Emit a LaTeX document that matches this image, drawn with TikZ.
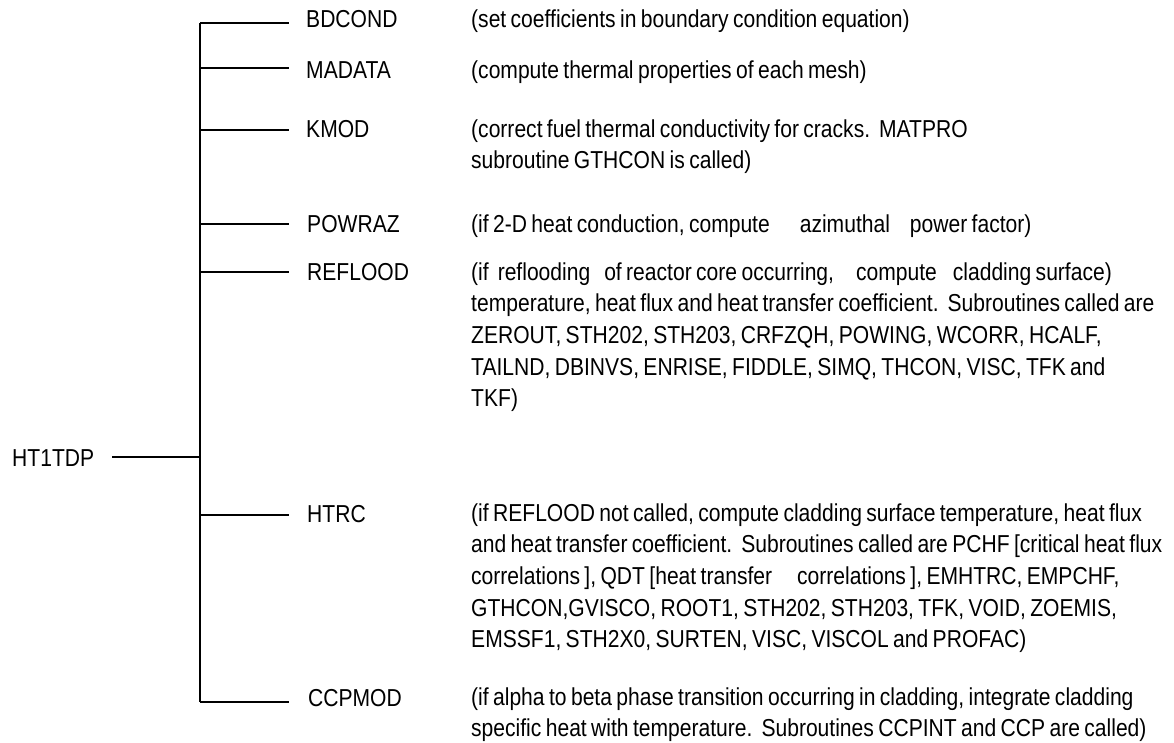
\documentclass[tikz,border=0pt]{standalone}
\usepackage{fontspec}
\setmainfont{Liberation Sans}
\newfontfamily\treefont[FakeStretch=0.86,WordSpace=0.75]{Liberation Sans}
\newcommand{\gap}[1]{\hspace*{#1pt}}
\begin{document}
\begin{tikzpicture}[x=1pt,y=-1pt,
  conn/.style={line width=1.7pt,black},
  lbl/.style={anchor=base west,inner sep=0pt,font=\treefont\fontsize{24.5}{31.7}\selectfont},
  dsc/.style={anchor=base west,inner sep=0pt,font=\treefont\fontsize{24.5}{31.7}\selectfont}]
\useasboundingbox (0,0) rectangle (1174,742);
% trunk
\coordinate (top) at (200,23);
\coordinate (bot) at (200,702);
\draw[conn] (top) -- (bot);
% root
\node[lbl] (root) at (12,466) {HT1TDP};
\coordinate (rootend) at (112,457);
\coordinate (rootj) at (200,457);
\draw[conn] (rootend) -- (rootj);
% branches
\foreach \n/\y in {bd/23,ma/68,km/130,pw/224,rf/272,ht/515,cc/702}{
  \coordinate (j\n) at (200,\y);
  \coordinate (e\n) at (289,\y);
  \draw[conn] (j\n) -- (e\n);
}
% labels
\node[lbl] (bdcond) at (306,27) {BDCOND};
\node[lbl] (madata) at (306,78) {MADATA};
\node[lbl] (kmod) at (306,137) {KMOD};
\node[lbl] (powraz) at (307,232) {POWRAZ};
\node[lbl] (reflood) at (307,280) {REFLOOD};
\node[lbl] (htrc) at (307,522) {HTRC};
\node[lbl] (ccpmod) at (308,706) {CCPMOD};
% descriptions
\node[dsc] (dbd) at (471,27) {(set coefficients in boundary condition equation)};
\node[dsc] (dma) at (471,78) {(compute thermal properties of each mesh)};
\node[dsc] (dkm) at (471,137) {\begin{tabular}[t]{@{}l@{}}(correct fuel thermal conductivity for cracks.\gap{9}MATPRO\\subroutine GTHCON is called)\end{tabular}};
\node[dsc] (dpw) at (471,232) {(if 2-D heat conduction, compute\gap{30}azimuthal\gap{20}power factor)};
\node[dsc] (drf) at (471,280) {\begin{tabular}[t]{@{}l@{}}(if\gap{9}reflooding\gap{14}of reactor core occurring,\gap{22}compute\gap{16}cladding surface)\\
temperature, heat flux and heat transfer coefficient.\gap{9}Subroutines called are\\
ZEROUT, STH202, STH203, CRFZQH, POWING, WCORR, HCALF,\\
TAILND, DBINVS, ENRISE, FIDDLE, SIMQ, THCON, VISC, TFK and\\
TKF)\end{tabular}};
\node[dsc] (dht) at (471,521) {\begin{tabular}[t]{@{}l@{}}(if REFLOOD not called, compute cladding surface temperature, heat flux\\
and heat transfer coefficient.\gap{9}Subroutines called are PCHF [critical heat flux\\
correlations ], QDT [heat transfer\gap{25}correlations ], EMHTRC, EMPCHF,\\
GTHCON,GVISCO, ROOT1, STH202, STH203, TFK, VOID, ZOEMIS,\\
EMSSF1, STH2X0, SURTEN, VISC, VISCOL and PROFAC)\end{tabular}};
\node[dsc] (dcc) at (471,705) {\begin{tabular}[t]{@{}l@{}}(if alpha to beta phase transition occurring in cladding, integrate cladding\\
specific heat with temperature.\gap{9}Subroutines CCPINT and CCP are called)\end{tabular}};
\end{tikzpicture}
\end{document}
